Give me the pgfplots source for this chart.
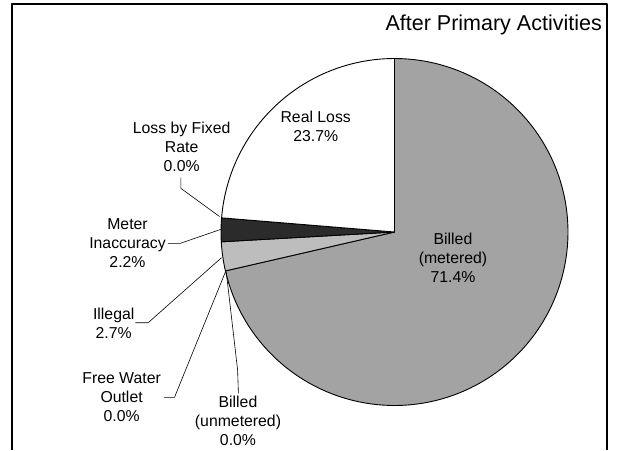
\documentclass[border=0pt]{standalone}
\usepackage{pgfplots}
\pgfplotsset{compat=1.18}
\usepackage{fontspec}
\setmainfont{Liberation Sans}
\definecolor{billedm}{HTML}{A3A3A3}
\definecolor{illegal}{HTML}{BDBDBD}
\definecolor{meter}{HTML}{2B2B2B}
% shares in percent, in the order of the pie (clockwise from 12 o'clock)
\def\vBilledM{71.4}
\def\vBilledU{0.0}
\def\vFree{0.0}
\def\vIllegal{2.7}
\def\vMeter{2.2}
\def\vFixed{0.0}
\def\vReal{23.7}
\pgfmathsetmacro\aA{90}
\pgfmathsetmacro\aB{\aA-3.6*\vBilledM}
\pgfmathsetmacro\aC{\aB-3.6*(\vBilledU+\vFree)}
\pgfmathsetmacro\aD{\aC-3.6*\vIllegal}
\pgfmathsetmacro\aE{\aD-3.6*\vMeter}
\pgfmathsetmacro\aF{\aE-3.6*(\vFixed+\vReal)}
\def\cx{394.5}
\def\cy{232}
\def\rr{173.5}
\begin{document}
\begin{tikzpicture}
\begin{axis}[
  width=617pt, height=450pt, scale only axis,
  xmin=0, xmax=617, ymin=0, ymax=450, y dir=reverse,
  hide axis, clip=false,
  every axis plot/.append style={line width=0.9pt, line join=round},
]
\path (axis cs:0,0) rectangle (axis cs:617,450);
% wedges
\addplot[draw=black, fill=billedm, domain=\aB:\aA, samples=120]
  ({\cx+\rr*cos(x)}, {\cy-\rr*sin(x)}) -- (axis cs:\cx,\cy) -- cycle;
\addplot[draw=black, fill=illegal, domain=\aD:\aC, samples=10]
  ({\cx+\rr*cos(x)}, {\cy-\rr*sin(x)}) -- (axis cs:\cx,\cy) -- cycle;
\addplot[draw=black, fill=meter, domain=\aE:\aD, samples=10]
  ({\cx+\rr*cos(x)}, {\cy-\rr*sin(x)}) -- (axis cs:\cx,\cy) -- cycle;
\addplot[draw=black, fill=white, domain=\aF:\aE, samples=60]
  ({\cx+\rr*cos(x)}, {\cy-\rr*sin(x)}) -- (axis cs:\cx,\cy) -- cycle;
% leader lines
\addplot[black, line width=0.6pt] coordinates {(180.8,177.5) (180.8,188.3) (219.5,216.5)};
\addplot[black, line width=0.6pt] coordinates {(167.8,243.3) (180.4,243.3) (221,229.3)};
\addplot[black, line width=0.6pt] coordinates {(135.3,322.7) (148.2,322.7) (221.5,257.7)};
\addplot[black, line width=0.6pt] coordinates {(163.9,397.3) (174.5,397.3) (225.5,271.7)};
\addplot[black, line width=0.6pt] coordinates {(238.4,393.3) (237.6,370) (226.3,272.3)};
% border
\addplot[black, line width=1.3pt] coordinates {(12,450) (12,4) (607,4) (607,450)};
% labels
\tikzset{lbl/.style={align=center, font=\fontsize{15.8}{19}\selectfont, inner sep=0pt}}
\node[lbl] at (axis cs:315.7,126.2) {Real Loss\\23.7\%};
\node[lbl] at (axis cs:181.6,146.7) {Loss by Fixed\\Rate\\0.0\%};
\node[lbl] at (axis cs:127.5,243.3) {Meter\\Inaccuracy\\2.2\%};
\node[lbl] at (axis cs:113.7,323.8) {Illegal\\2.7\%};
\node[lbl] at (axis cs:121.6,397.3) {Free Water\\Outlet\\0.0\%};
\node[lbl] at (axis cs:238,421) {Billed\\(unmetered)\\0.0\%};
\node[lbl] at (axis cs:453,258.3) {Billed\\(metered)\\71.4\%};
\node[anchor=east, font=\fontsize{21.5}{25}\selectfont, inner sep=0pt] at (axis cs:602,25) {After Primary Activities};
\end{axis}
\end{tikzpicture}
\end{document}
